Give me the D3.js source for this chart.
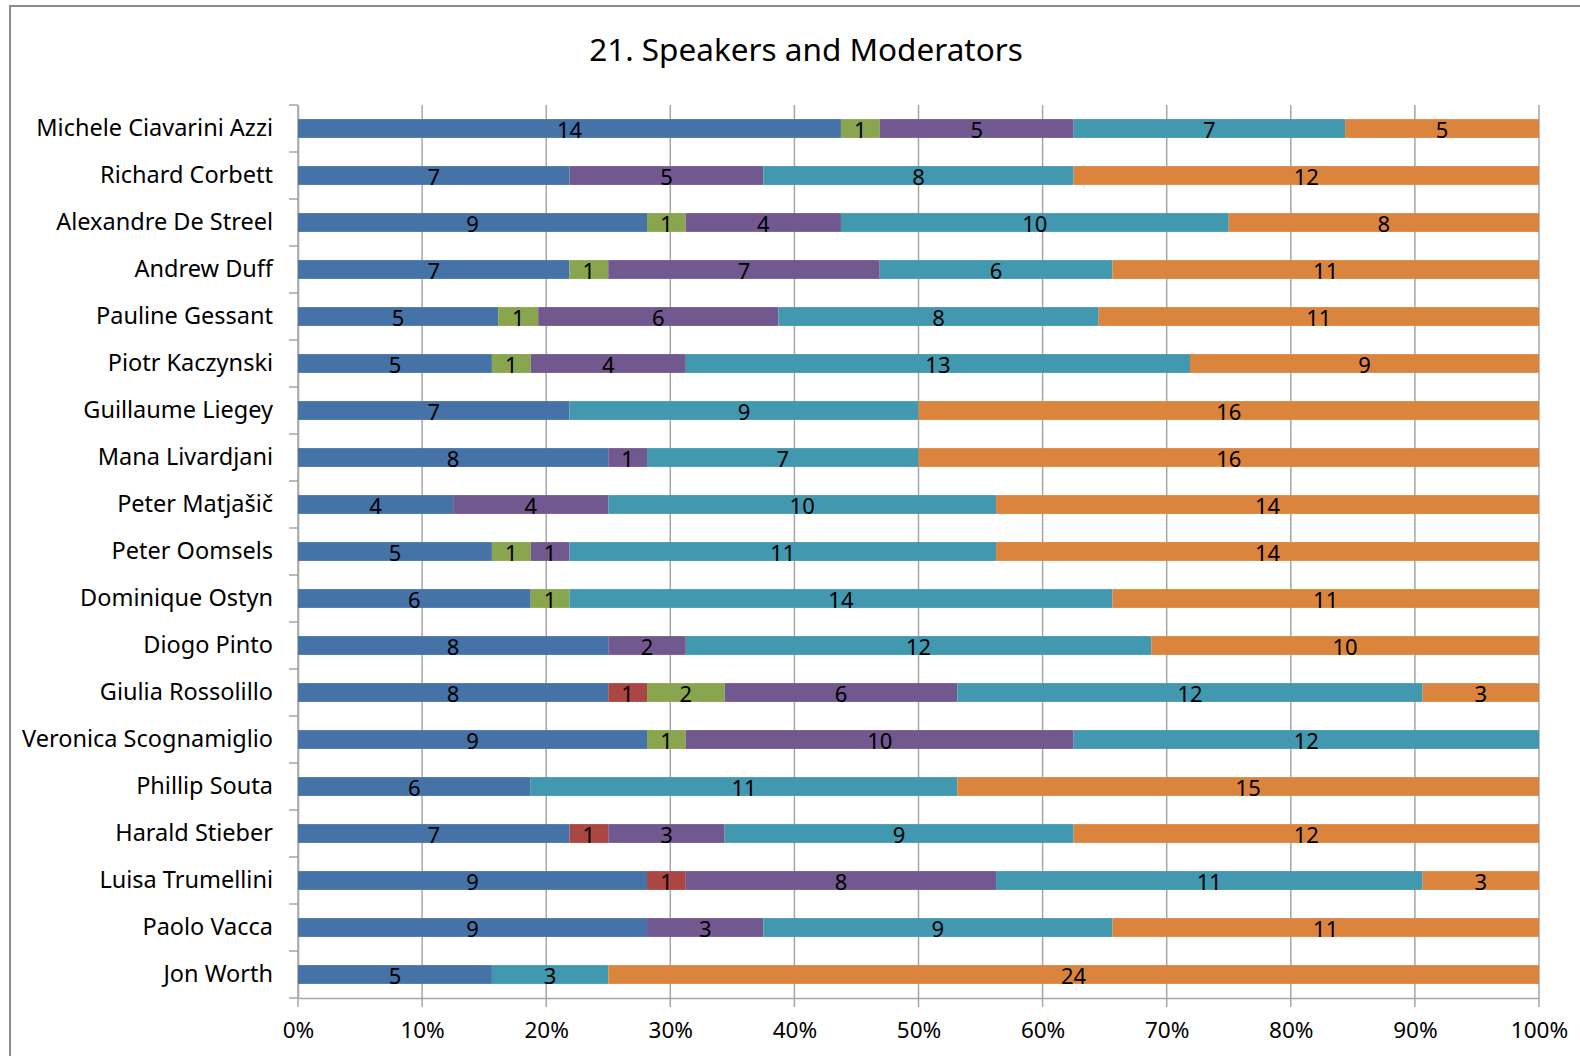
<!DOCTYPE html>
<html>
<head>
<meta charset="utf-8">
<script src="https://cdn.jsdelivr.net/npm/d3@7"></script>
<style>
  body { margin: 0; background: #fff; }
  svg text { font-family: "Noto Sans", "Open Sans", sans-serif; fill: #000; }
</style>
</head>
<body>
<div id="the_chart"></div>
<script>
var names = ["Michele Ciavarini Azzi", "Richard Corbett", "Alexandre De Streel", "Andrew Duff",
    "Pauline Gessant", "Piotr Kaczynski", "Guillaume Liegey", "Mana Livardjani", "Peter Matjašič",
    "Peter Oomsels", "Dominique Ostyn", "Diogo Pinto", "Giulia Rossolillo", "Veronica Scognamiglio",
    "Phillip Souta", "Harald Stieber", "Luisa Trumellini", "Paolo Vacca", "Jon Worth"];

// one array per series, same order as names
var s1 = [14, 7, 9, 7, 5, 5, 7, 8, 4, 5, 6, 8, 8, 9, 6, 7, 9, 9, 5];
var s2 = [0, 0, 0, 0, 0, 0, 0, 0, 0, 0, 0, 0, 1, 0, 0, 1, 1, 0, 0];
var s3 = [1, 0, 1, 1, 1, 1, 0, 0, 0, 1, 1, 0, 2, 1, 0, 0, 0, 0, 0];
var s4 = [5, 5, 4, 7, 6, 4, 0, 1, 4, 1, 0, 2, 6, 10, 0, 3, 8, 3, 0];
var s5 = [7, 8, 10, 6, 8, 13, 9, 7, 10, 11, 14, 12, 12, 12, 11, 9, 11, 9, 3];
var s6 = [5, 12, 8, 11, 11, 9, 16, 16, 14, 14, 11, 10, 3, 0, 15, 12, 3, 11, 24];
var colors = ["#4572a7", "#aa4643", "#89a54e", "#71588f", "#4198af", "#db843d"];
var xTicks = [0, 0.1, 0.2, 0.3, 0.4, 0.5, 0.6, 0.7, 0.8, 0.9, 1];

var series = [s1, s2, s3, s4, s5, s6];

function gen_vis() {
    var w = 1580, h = 1056;
    var left = 298, right = 1539, top = 105, bottom = 998;

    var svg = d3.select("#the_chart").append("svg")
        .attr("width", w)
        .attr("height", h);

    // outer border
    svg.append("rect")
        .attr("x", 10).attr("y", 6)
        .attr("width", w + 20).attr("height", h + 20)
        .attr("fill", "none")
        .attr("stroke", "#8c8c8c")
        .attr("stroke-width", 2);

    svg.append("text")
        .attr("x", 806).attr("y", 61)
        .attr("text-anchor", "middle")
        .style("font-size", "31.5px")
        .text("21. Speakers and Moderators");

    var xscale = d3.scaleLinear().domain([0, 1]).range([left, right]);
    var yscale = d3.scaleBand().domain(names).range([top, bottom]).paddingInner(0.6).paddingOuter(0.3);
    var ystep = d3.scaleBand().domain(names).range([top, bottom]);

    // gridlines + bottom ticks
    svg.append("g").selectAll("line")
        .data(xTicks)
        .enter().append("line")
        .attr("x1", function (d) { return xscale(d); })
        .attr("x2", function (d) { return xscale(d); })
        .attr("y1", top)
        .attr("y2", bottom + 9)
        .attr("stroke", "#a6a6a6")
        .attr("stroke-width", 1.5);

    // category axis with outward ticks
    var yaxis = d3.axisLeft(ystep).tickSize(0).tickPadding(25);
    var yg = svg.append("g")
        .attr("transform", "translate(" + left + ",0)")
        .call(yaxis);
    yg.select(".domain").attr("stroke", "#a6a6a6").attr("stroke-width", 1.5);
    yg.selectAll("text").style("font-size", "23.5px").attr("dy", "0.3em");

    var bounds = names.map(function (n) { return ystep(n); }).concat([bottom]);
    svg.append("g").selectAll("line")
        .data(bounds)
        .enter().append("line")
        .attr("x1", left - 9).attr("x2", left)
        .attr("y1", function (d) { return d; })
        .attr("y2", function (d) { return d; })
        .attr("stroke", "#a6a6a6")
        .attr("stroke-width", 1.5);

    // bottom axis
    var xaxis = d3.axisBottom(xscale).tickValues(xTicks).tickSize(0).tickPadding(24)
        .tickFormat(d3.format(".0%"));
    var xg = svg.append("g")
        .attr("transform", "translate(0," + bottom + ")")
        .call(xaxis);
    xg.select(".domain").attr("stroke", "#a6a6a6").attr("stroke-width", 1.5);
    xg.selectAll("text").style("font-size", "22.5px");

    // stacked segments
    var segs = [];
    names.forEach(function (n, i) {
        var total = d3.sum(series, function (s) { return s[i]; });
        var acc = 0;
        series.forEach(function (s, k) {
            if (s[i] > 0) {
                segs.push({ name: n, v: s[i], x0: acc / total, x1: (acc + s[i]) / total, k: k });
            }
            acc += s[i];
        });
    });

    svg.append("g").selectAll("rect")
        .data(segs)
        .enter().append("rect")
        .attr("x", function (d) { return xscale(d.x0); })
        .attr("width", function (d) { return xscale(d.x1) - xscale(d.x0); })
        .attr("y", function (d) { return yscale(d.name); })
        .attr("height", yscale.bandwidth())
        .attr("fill", function (d) { return colors[d.k]; });

    svg.append("g").selectAll("text")
        .data(segs)
        .enter().append("text")
        .attr("x", function (d) { return (xscale(d.x0) + xscale(d.x1)) / 2; })
        .attr("y", function (d) { return yscale(d.name) + yscale.bandwidth() / 2 + 9; })
        .attr("text-anchor", "middle")
        .style("font-size", "22px")
        .text(function (d) { return d.v; });
}

gen_vis();
</script>
</body>
</html>
